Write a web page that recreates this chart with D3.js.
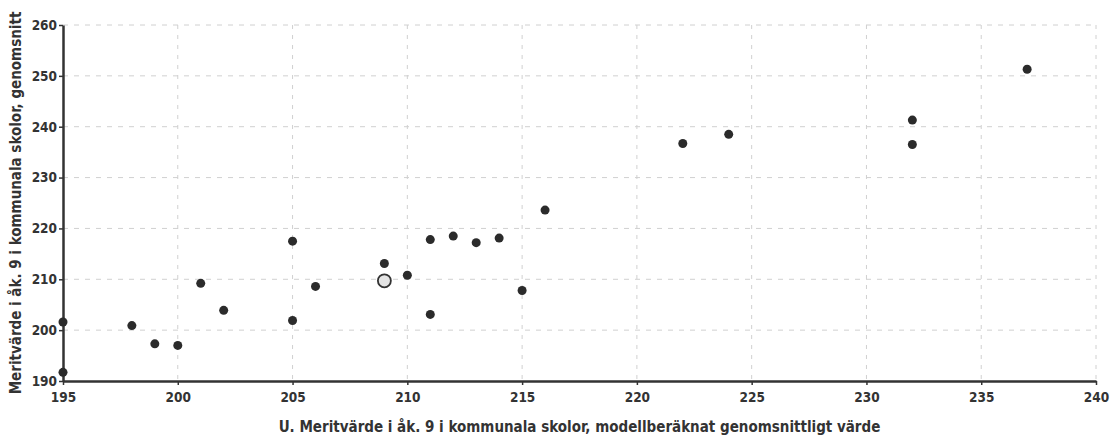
<!DOCTYPE html>
<html>
<head>
<meta charset="utf-8">
<script src="https://cdn.jsdelivr.net/npm/d3@7"></script>
<style>
  body { margin: 0; background: #fff; }
  text { font-family: "DejaVu Sans Condensed", "DejaVu Sans", sans-serif; font-weight: bold; fill: #333; }
</style>
</head>
<body>
<div id="chart"></div>
<script>
// Data
var xValues = [195, 195, 198, 199, 200, 201, 202, 205, 205, 206, 209, 210, 211, 211, 212, 213, 214, 215, 216, 222, 224, 232, 232, 237];
var yValues = [201.6, 191.7, 200.9, 197.3, 197.0, 209.2, 203.9, 217.5, 201.9, 208.6, 213.1, 210.8, 217.8, 203.1, 218.5, 217.2, 218.1, 207.8, 223.6, 236.7, 238.5, 241.3, 236.5, 251.3];
var highlight = {x: 209, y: 209.7};
var xTicks = [195, 200, 205, 210, 215, 220, 225, 230, 235, 240];
var yTicks = [190, 200, 210, 220, 230, 240, 250, 260];
var xTitle = "U. Meritvärde i åk. 9 i kommunala skolor, modellberäknat genomsnittligt värde";
var yTitle = "Meritvärde i åk. 9 i kommunala skolor, genomsnitt";

//Dimensions
var margin = {top: 25, right: 17, bottom: 57, left: 63},
    width = 1113 - margin.left - margin.right,
    height = 438 - margin.top - margin.bottom;

var svg = d3.select("#chart").append("svg")
    .attr("width", 1113).attr("height", 438)
  .append("g")
    .attr("transform", "translate(" + margin.left + "," + margin.top + ")");

var x = d3.scaleLinear().domain([195, 240]).range([0, width]);
var y = d3.scaleLinear().domain([190, 260]).range([height, 0]);

//Grid
svg.append("g").selectAll("line").data(yTicks.slice(1)).enter().append("line")
    .attr("x1", 0).attr("x2", width)
    .attr("y1", function(d){ return y(d); }).attr("y2", function(d){ return y(d); })
    .style("stroke", "#d0d0d0").style("stroke-dasharray", "5,6");
svg.append("g").selectAll("line").data(xTicks.slice(1)).enter().append("line")
    .attr("y1", 0).attr("y2", height)
    .attr("x1", function(d){ return x(d); }).attr("x2", function(d){ return x(d); })
    .style("stroke", "#d0d0d0").style("stroke-dasharray", "4,6");

//Axes
var xAxis = svg.append("g").attr("transform", "translate(0," + height + ")")
    .call(d3.axisBottom(x).tickValues(xTicks).tickSize(4).tickSizeOuter(0));
var yAxis = svg.append("g")
    .call(d3.axisLeft(y).tickValues(yTicks).tickSize(4).tickSizeOuter(0));
[xAxis, yAxis].forEach(function(a){
  a.select(".domain").style("stroke", "#333").style("stroke-width", 2.5);
  a.selectAll(".tick line").style("stroke", "#333").style("stroke-width", 1.5);
  a.selectAll(".tick text").style("font-size", "13.5px").style("font-family", null).attr("fill", "#333");
});
xAxis.selectAll(".tick text").attr("dy", "1.05em");
yAxis.selectAll(".tick text").attr("x", -6);

//Points
var pts = xValues.map(function(d, i){ return {x: d, y: yValues[i]}; });
svg.append("g").selectAll("circle").data(pts).enter().append("circle")
    .attr("cx", function(d){ return x(d.x); })
    .attr("cy", function(d){ return y(d.y); })
    .attr("r", 4.5)
    .style("fill", "#2b2b2b");
svg.append("circle")
    .attr("cx", x(highlight.x)).attr("cy", y(highlight.y))
    .attr("r", 6.5)
    .style("fill", "#e4e4e4").style("stroke", "#333").style("stroke-width", 1.8);

//Titles
svg.append("text")
    .attr("x", width / 2).attr("y", height + 51)
    .attr("text-anchor", "middle").style("font-size", "15px")
    .text(xTitle);
svg.append("text")
    .attr("transform", "translate(-42," + (height / 2) + ") rotate(-90)")
    .attr("text-anchor", "middle").style("font-size", "15px")
    .text(yTitle);
</script>
</body>
</html>
